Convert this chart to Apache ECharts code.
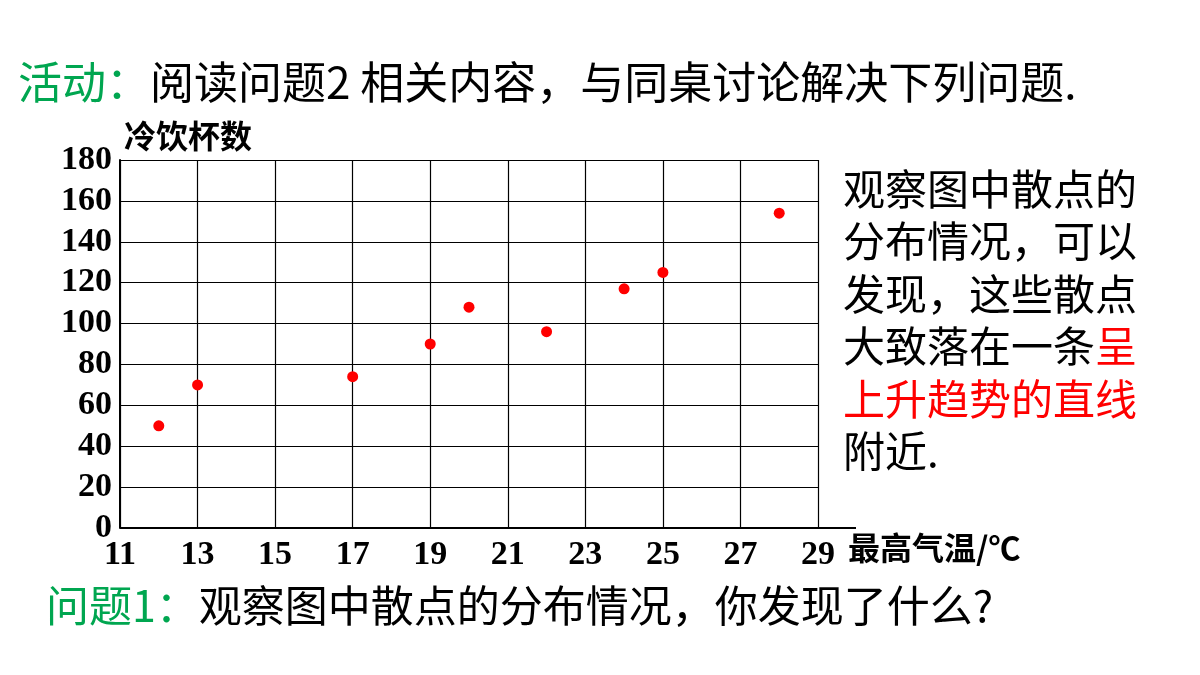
<!DOCTYPE html>
<html>
<head>
<meta charset="utf-8">
<script src="https://cdn.jsdelivr.net/npm/echarts@6/dist/echarts.min.js"></script>
<style>html,body{margin:0;padding:0;background:#fff}#main{width:1200px;height:675px}</style>
</head>
<body>
<div id="main"></div>
<script type="text/javascript">
  // 最高气温 / 冷饮杯数
  var temps = [12, 13, 17, 19, 20, 22, 24, 25, 28];
  var cups = [50, 70, 74, 90, 108, 96, 117, 125, 154];
  var points = temps.map(function (t, i) { return [t, cups[i]]; });

  var cjk = '"Noto Sans CJK SC", sans-serif';
  var serif = '"Liberation Serif", "DejaVu Serif", serif';
  var myChart = echarts.init(document.getElementById('main'));
  myChart.setOption({
    backgroundColor: '#fff',
    animation: false,
    grid: { left: 120, top: 160, width: 698, height: 368 },
    xAxis: {
      type: 'value', min: 11, max: 29, interval: 2,
      axisLine: { show: false },
      axisTick: { show: false },
      axisLabel: { color: '#000', fontFamily: serif, fontWeight: 'bold', fontSize: 34, margin: 10 },
      splitLine: { show: true, lineStyle: { color: '#000', width: 1.2 } }
    },
    yAxis: {
      type: 'value', min: 0, max: 180, interval: 20,
      axisLine: { show: true, lineStyle: { color: '#000', width: 2 } },
      axisTick: { show: false },
      axisLabel: { color: '#000', fontFamily: serif, fontWeight: 'bold', fontSize: 34, margin: 8 },
      splitLine: { show: true, lineStyle: { color: '#000', width: 1.2 } }
    },
    series: [{
      type: 'scatter', data: points, symbolSize: 11,
      itemStyle: { color: '#ff0000', opacity: 1 }
    }],
    graphic: [
      { type: 'line', shape: { x1: 120, y1: 528, x2: 856, y2: 528 }, style: { stroke: '#000', lineWidth: 2 } },
      { type: 'text', left: 124, top: 120, style: { text: '冷饮杯数', font: 'bold 32px ' + cjk, fill: '#000' } },
      { type: 'text', left: 848, top: 532, style: { text: '最高气温/℃', font: 'bold 32px ' + cjk, fill: '#000' } },
      { type: 'text', left: 18, top: 60, style: {
        rich: { g: { fill: '#00a650', font: '44px ' + cjk }, b: { fill: '#000', font: '44px ' + cjk } },
        text: '{g|活动：}{b|阅读问题2 相关内容，与同桌讨论解决下列问题.}' } },
      { type: 'text', left: 46, top: 584, style: {
        rich: { g: { fill: '#00a650', font: '43px ' + cjk }, b: { fill: '#000', font: '43px ' + cjk } },
        text: '{g|问题1：}{b|观察图中散点的分布情况，你发现了什么?}' } },
      { type: 'text', left: 843, top: 168, style: {
        rich: { b: { fill: '#000', font: '42px ' + cjk, lineHeight: 52.5 }, r: { fill: '#ff0000', font: '42px ' + cjk, lineHeight: 52.5 } },
        text: '{b|观察图中散点的}\n{b|分布情况，可以}\n{b|发现，这些散点}\n{b|大致落在一条}{r|呈}\n{r|上升趋势的直线}\n{b|附近.}' } }
    ]
  });
</script>
</body>
</html>
